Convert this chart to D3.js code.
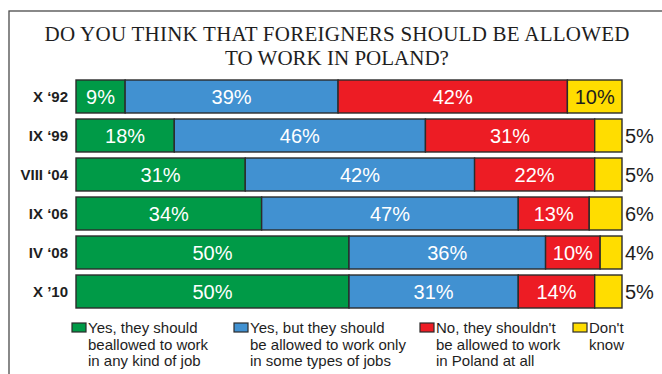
<!DOCTYPE html>
<html>
<head>
<meta charset="utf-8">
<script src="https://cdn.jsdelivr.net/npm/d3@7/dist/d3.min.js"></script>
<style>
  html, body { margin: 0; padding: 0; background: #fff; }
  svg { display: block; }
</style>
</head>
<body>
<svg id="chart" width="662" height="374"></svg>
<script>
// Survey waves (rows, top to bottom)
const waves = ["X \u201892", "IX \u201899", "VIII \u201804", "IX \u201806", "IV \u201808", "X \u201910"];

// Share of answers per wave, in percent
const yesAnyJob   = [9, 18, 31, 34, 50, 50];
const yesSomeJobs = [39, 46, 42, 47, 36, 31];
const no          = [42, 31, 22, 13, 10, 14];
const dontKnow    = [10, 5, 5, 6, 4, 5];

const seriesNames = ["yesAny", "yesSome", "no", "dk"];
const seriesValues = [yesAnyJob, yesSomeJobs, no, dontKnow];
const seriesColors = ["#009a47", "#4191d1", "#ed1c24", "#ffdd00"];
const legendLines = [
  ["Yes, they should", "beallowed to work", "in any kind of job"],
  ["Yes, but they should", "be allowed to work only", "in some types of jobs"],
  ["No, they shouldn't", "be allowed to work", "in Poland at all"],
  ["Don't", "know"]
];
const titleLines = ["DO YOU THINK THAT FOREIGNERS SHOULD BE ALLOWED", "TO WORK IN POLAND?"];

const svg = d3.select("#chart");

// outer frame (open towards the right and bottom edges)
svg.append("rect")
  .attr("x", 9).attr("y", 11)
  .attr("width", 700).attr("height", 400)
  .attr("fill", "none")
  .attr("stroke", "#4a4a4a")
  .attr("stroke-width", 1.3);

// title
svg.append("g").selectAll("text")
  .data(titleLines)
  .join("text")
  .attr("x", 337)
  .attr("y", (d, i) => 41 + i * 24)
  .attr("text-anchor", "middle")
  .attr("font-family", "'Liberation Serif', 'Times New Roman', serif")
  .attr("font-size", 21)
  .attr("fill", "#1e1e1e")
  .each(function (d, i) {
    if (i === 0) d3.select(this).attr("textLength", 585).attr("lengthAdjust", "spacing");
  })
  .text(d => d);

// scales
const x = d3.scaleLinear().domain([0, 100]).range([76, 622]);
const y = d3.scaleBand().domain(waves).range([80, 308]).paddingInner(0.154).paddingOuter(0);

// stack the rows
const rows = waves.map((w, i) => {
  const r = { wave: w };
  seriesNames.forEach((s, k) => r[s] = seriesValues[k][i]);
  return r;
});
const stacked = d3.stack().keys(seriesNames)(rows);

const layers = svg.append("g").selectAll("g")
  .data(stacked)
  .join("g")
  .attr("fill", (d, k) => seriesColors[k]);

layers.selectAll("rect")
  .data(d => d)
  .join("rect")
  .attr("x", d => x(d[0]))
  .attr("y", d => y(d.data.wave))
  .attr("width", d => x(d[1]) - x(d[0]))
  .attr("height", y.bandwidth())
  .attr("stroke", "#2b2b2b")
  .attr("stroke-width", 1.4);

// value labels
const labelFont = "'Liberation Sans', Arial, Helvetica, sans-serif";
stacked.forEach((layer, k) => {
  svg.append("g").selectAll("text")
    .data(layer)
    .join("text")
    .each(function (d) {
      const v = d[1] - d[0];
      const inside = v >= 8;
      const t = d3.select(this);
      t.attr("y", y(d.data.wave) + y.bandwidth() / 2)
        .attr("dy", "0.36em")
        .attr("font-family", labelFont)
        .attr("font-size", 20)
        .text(v + "%");
      if (inside) {
        t.attr("x", (x(d[0]) + x(d[1])) / 2)
          .attr("text-anchor", "middle")
          .attr("fill", k === 3 ? "#1e1e1e" : "#ffffff");
      } else {
        t.attr("x", x(d[1]) + 3)
          .attr("text-anchor", "start")
          .attr("fill", "#1e1e1e");
      }
    });
});

// wave labels on the left
svg.append("g").selectAll("text")
  .data(waves)
  .join("text")
  .attr("x", 68)
  .attr("y", d => y(d) + y.bandwidth() / 2)
  .attr("dy", "0.36em")
  .attr("text-anchor", "end")
  .attr("font-family", labelFont)
  .attr("font-weight", "bold")
  .attr("font-size", 15)
  .attr("fill", "#1e1e1e")
  .text(d => d);

// legend
const legendX = [72, 234, 420, 573];
const legend = svg.append("g").selectAll("g")
  .data(seriesNames)
  .join("g")
  .attr("transform", (d, k) => `translate(${legendX[k]},0)`);

legend.append("rect")
  .attr("x", 0).attr("y", 323)
  .attr("width", 14).attr("height", 9)
  .attr("fill", (d, k) => seriesColors[k])
  .attr("stroke", "#2b2b2b")
  .attr("stroke-width", 1.2);

legend.each(function (d, k) {
  d3.select(this).selectAll("text")
    .data(legendLines[k])
    .join("text")
    .attr("x", 16)
    .attr("y", (t, i) => 333 + i * 16.5)
    .attr("font-family", labelFont)
    .attr("font-size", 15)
    .attr("fill", "#1e1e1e")
    .text(t => t);
});
</script>
</body>
</html>
